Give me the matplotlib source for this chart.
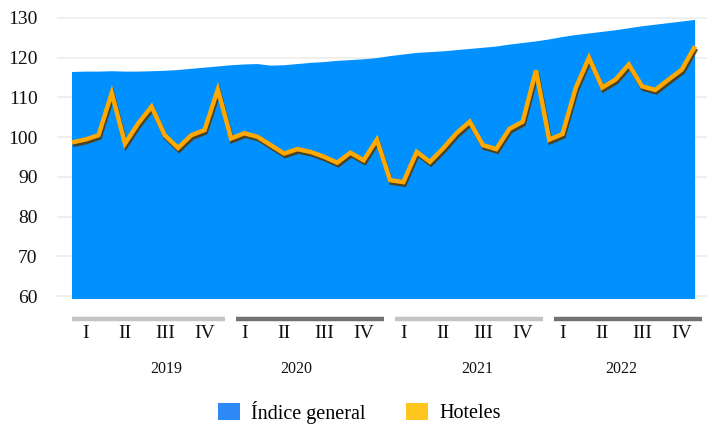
import matplotlib
matplotlib.use("Agg")
import matplotlib.pyplot as plt
import matplotlib.patheffects as pe
from matplotlib.patches import Patch
from matplotlib.transforms import blended_transform_factory
import numpy as np

# Monthly index values, January 2019 .. December 2022
years = ["2019", "2020", "2021", "2022"]
quarters = ["I", "II", "III", "IV"]

indice_general = [
    116.4, 116.5, 116.5, 116.6, 116.5, 116.5, 116.6, 116.7, 116.9, 117.2, 117.5, 117.8,
    118.1, 118.3, 118.4, 118.0, 118.1, 118.4, 118.7, 118.9, 119.2, 119.4, 119.6, 119.9,
    120.4, 120.8, 121.2, 121.4, 121.6, 121.9, 122.2, 122.5, 122.8, 123.3, 123.7, 124.1,
    124.6, 125.2, 125.7, 126.1, 126.5, 126.9, 127.4, 127.9, 128.3, 128.7, 129.1, 129.5,
]

hoteles = [
    98.7, 99.4, 100.5, 111.1, 98.4, 103.5, 107.7, 100.5, 97.3, 100.5, 101.8, 112.0,
    99.7, 101.0, 100.1, 98.0, 95.9, 97.0, 96.3, 95.1, 93.6, 96.1, 94.2, 99.4,
    89.2, 88.7, 96.3, 93.8, 97.2, 101.0, 103.9, 98.0, 97.0, 102.1, 103.9, 116.8,
    99.4, 100.8, 112.4, 120.0, 112.5, 114.5, 118.3, 112.8, 111.9, 114.5, 117.0, 122.9,
]

y_ticks = [60, 70, 80, 90, 100, 110, 120, 130]

FONT = ["Liberation Serif", "DejaVu Serif"]
plt.rcParams["font.family"] = FONT

W, H = 707, 429
fig = plt.figure(figsize=(W / 100, H / 100), dpi=100)
fig.patch.set_facecolor("white")

# axes box in pixel coordinates (left, top, right, bottom)
L, T, R, B = 57, 10, 707, 299
ax = fig.add_axes([L / W, 1 - B / H, (R - L) / W, (B - T) / H])

x = np.arange(len(indice_general))
ax.set_xlim(-1.13, 47.9)
ax.set_ylim(59.3, 132)

ax.fill_between(x, 0, indice_general, color="#0091ff", linewidth=0, zorder=2)

ax.plot(x, hoteles, color="#ffa800", linewidth=3.2, solid_joinstyle="miter",
        solid_capstyle="butt", zorder=4,
        path_effects=[pe.SimpleLineShadow(offset=(0.8, -1.8), shadow_color="#5a3500",
                                          alpha=0.85),
                      pe.Normal()])

# horizontal grid
ax.set_yticks(y_ticks)
ax.yaxis.grid(True, color="#ececec", linewidth=1.2, zorder=1)
ax.set_axisbelow(True)
ax.tick_params(axis="y", length=0, pad=14, labelsize=14, labelcolor="#111111")
ax.set_xticks([])
for s in ax.spines.values():
    s.set_visible(False)

# quarter labels, year bars and year labels under the plot
tr = blended_transform_factory(ax.transData, fig.transFigure)
bar_colors = ["#c4c4c4", "#727272", "#c4c4c4", "#727272"]
year_nudge = [1.6, -0.6, 1.1, -0.1]
for k, yr in enumerate(years):
    start = 12 * k
    x0 = start + (0.0 if k == 0 else 0.35)
    x1 = start + 11.55
    ax.plot([x0, x1], [1 - 318.5 / H] * 2, transform=tr, color=bar_colors[k],
            linewidth=3.2, solid_capstyle="butt", clip_on=False)
    for q, qn in enumerate(quarters):
        ax.text(start + 3 * q + 1, 1 - 334 / H, qn, transform=tr, ha="center",
                va="center", fontsize=14, color="#111111", family=FONT)
    ax.text(start + 5.5 + year_nudge[k], 1 - 369 / H, yr, transform=tr, ha="center",
            va="center", fontsize=11.5, color="#111111")

handles = [Patch(facecolor="#2d89f5", edgecolor="none", label="Índice general"),
           Patch(facecolor="#ffc61e", edgecolor="none", label="Hoteles")]
fig.legend(handles=handles, loc="center", bbox_to_anchor=(0.508, 1 - 412 / H),
           ncol=2, frameon=False, fontsize=14.5, handlelength=1.1, handleheight=0.95,
           handletextpad=0.55, columnspacing=2.0)

fig.savefig("out.png", dpi=100, facecolor="white")
